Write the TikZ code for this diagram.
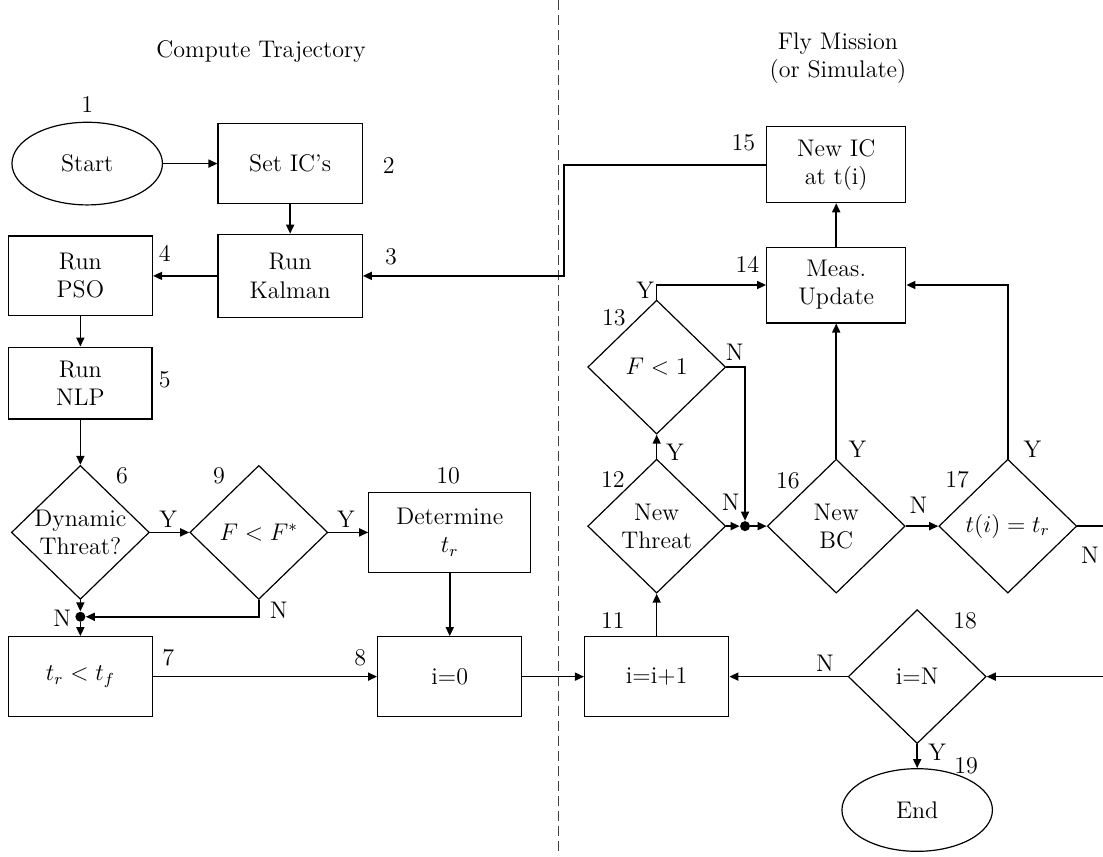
\documentclass[tikz,border=0pt]{standalone}
\usepackage{amsmath}
\usetikzlibrary{arrows.meta,shapes.geometric}

\begin{document}
\begin{tikzpicture}[font=\large,>={Triangle[length=4.5pt,width=4pt]},
  box/.style={draw,line width=0.6pt,minimum width=2.53cm,
    minimum height=1.40cm,align=center,inner sep=2pt},
  decision/.style={draw,diamond,line width=0.6pt,minimum width=2.42cm,
    minimum height=2.35cm,inner sep=-4pt,align=center},
  terminal/.style={draw,ellipse,line width=0.6pt,minimum width=2.64cm,
    minimum height=1.45cm},
  junction/.style={circle,fill,inner sep=0pt,minimum size=5pt},
  flow/.style={->,line width=0.8pt}]
  \useasboundingbox (0,0) rectangle (19.35,-15.02);
  \clip (0,0) rectangle (19.35,-15.02);

  % Headings and the split between the two halves
  \node (hcomp) at (4.58,-0.91) {Compute Trajectory};
  \node[align=center] (hfly) at (14.70,-1.02) {Fly Mission\\(or Simulate)};
  \draw[dash pattern=on 5pt off 2.5pt,line width=0.5pt,black!75]
    (9.79,0) -- (9.79,-15.02);

  % Compute trajectory
  \node[terminal] (start) at (1.53,-2.87) {Start};
  \node[box] (setic) at (5.09,-2.87) {Set IC's};
  \node[box,minimum height=1.46cm] (kalman) at (5.09,-4.84) {Run\\Kalman};
  \node[box] (pso) at (1.41,-4.84) {Run\\PSO};
  \node[box,minimum width=2.51cm,minimum height=1.26cm] (nlp)
    at (1.41,-6.72) {Run\\NLP};
  \node[decision] (dyn) at (1.41,-9.34) {Dynamic\\Threat?};
  \node[decision] (fstar) at (4.54,-9.34) {$F < F^*$};
  \node[box,minimum width=2.84cm] (detr) at (7.89,-9.34) {Determine\\$t_r$};
  \node[junction] (dot1) at (1.41,-10.82) {};
  \node[box] (trtf) at (1.41,-11.87) {$t_r < t_f$};
  \node[box] (izero) at (7.89,-11.87) {i=0};

  % Fly mission
  \node[box] (inc) at (11.52,-11.87) {i=i+1};
  \node[decision] (newthr) at (11.52,-9.23) {New\\Threat};
  \node[decision] (fone) at (11.52,-6.44) {$F < 1$};
  \node[junction] (dot2) at (13.07,-9.23) {};
  \node[decision] (newbc) at (14.67,-9.23) {New\\BC};
  \node[box,minimum width=2.44cm,minimum height=1.33cm] (meas)
    at (14.67,-5.00) {Meas.\\Update};
  \node[box,minimum width=2.44cm,minimum height=1.33cm] (newic)
    at (14.67,-2.89) {New IC\\at t(i)};
  \node[decision] (tieq) at (17.68,-9.23) {$t(i) = t_r$};
  \node[decision] (ieqn) at (16.09,-11.87) {i=N};
  \node[terminal] (stop) at (16.09,-14.21) {End};
  \coordinate (backk) at (9.89,-4.84);
  \coordinate (loopr) at (19.55,-9.23);

  % Step numbers
  \node (num1) at (1.53,-1.84) {1};
  \node (num2) at (6.82,-2.91) {2};
  \node (num3) at (6.86,-4.51) {3};
  \node (num4) at (2.89,-4.44) {4};
  \node (num5) at (2.89,-6.67) {5};
  \node (num6) at (2.14,-8.35) {6};
  \node (num7) at (2.95,-11.53) {7};
  \node (num8) at (6.32,-11.54) {8};
  \node (num9) at (3.84,-8.35) {9};
  \node (num10) at (7.86,-8.35) {10};
  \node (num11) at (10.75,-10.89) {11};
  \node (num12) at (10.75,-8.42) {12};
  \node (num13) at (10.77,-5.58) {13};
  \node (num14) at (13.11,-4.63) {14};
  \node (num15) at (13.04,-2.51) {15};
  \node (num16) at (13.82,-8.44) {16};
  \node (num17) at (16.79,-8.42) {17};
  \node (num18) at (16.93,-10.89) {18};
  \node (num19) at (16.95,-13.44) {19};

  % Yes / no marks
  \node (y1) at (2.95,-9.11) {Y};
  \node (y2) at (6.07,-9.11) {Y};
  \node (n1) at (1.09,-10.84) {N};
  \node (n2) at (4.89,-10.70) {N};
  \node (y3) at (11.84,-7.93) {Y};
  \node (y4) at (11.32,-5.09) {Y};
  \node (n3) at (12.89,-6.18) {N};
  \node (n4) at (12.82,-8.81) {N};
  \node (y5) at (15.04,-7.89) {Y};
  \node (n5) at (16.11,-8.86) {N};
  \node (y6) at (18.11,-7.89) {Y};
  \node (n6) at (19.12,-9.74) {N};
  \node (n7) at (14.47,-11.63) {N};
  \node (y7) at (16.44,-13.19) {Y};

  % Connectors
  \draw[flow] (start) -- (setic);
  \draw[flow] (setic) -- (kalman);
  \draw[flow] (kalman) -- (pso);
  \draw[flow] (pso) -- (nlp);
  \draw[flow] (nlp) -- (dyn);
  \draw[flow] (dyn) -- (fstar);
  \draw[flow] (fstar) -- (detr);
  \draw[flow] (dyn) -- (dot1);
  \draw[flow] (fstar.south) |- (dot1);
  \draw[flow] (dot1) -- (trtf);
  \draw[flow] (detr) -- (izero);
  \draw[flow] (trtf) -- (izero);
  \draw[flow] (izero) -- (inc);
  \draw[flow] (inc) -- (newthr);
  \draw[flow] (newthr) -- (fone);
  \draw[flow] (fone.north) |- (meas);
  \draw[flow] (fone.east) -| (dot2);
  \draw[flow] (newthr) -- (dot2);
  \draw[flow] (dot2) -- (newbc);
  \draw[flow] (newbc) -- (meas);
  \draw[flow] (meas) -- (newic);
  \draw[flow] (newic.west) -| (backk) -- (kalman);
  \draw[flow] (newbc) -- (tieq);
  \draw[flow] (tieq.north) |- (meas);
  \draw[flow] (tieq.east) -- (loopr) |- (ieqn);
  \draw[flow] (ieqn) -- (inc);
  \draw[flow] (ieqn) -- (stop);
\end{tikzpicture}
\end{document}
